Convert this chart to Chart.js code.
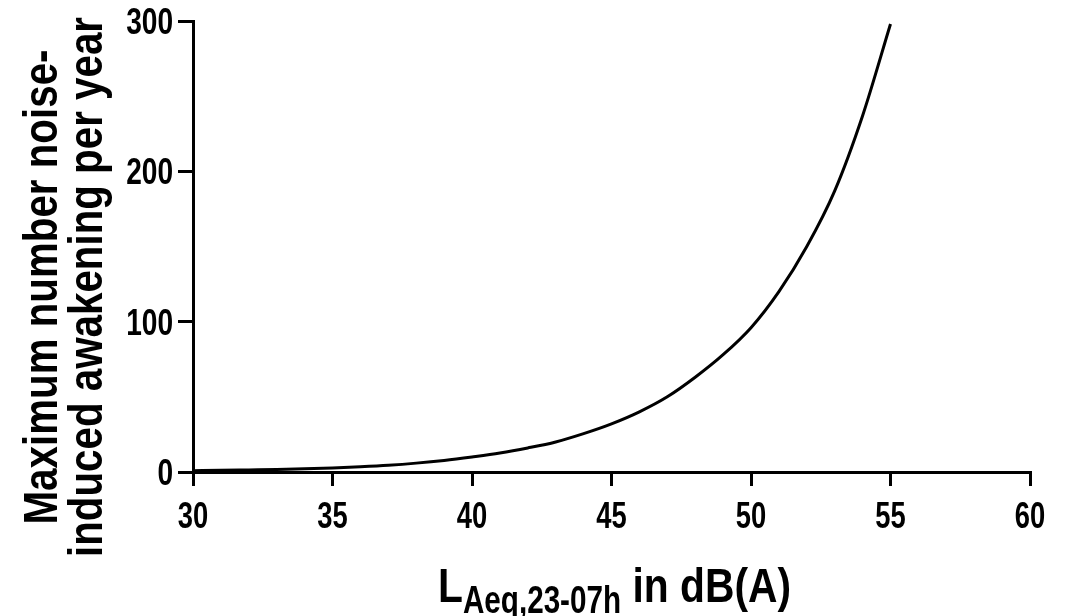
<!DOCTYPE html>
<html lang="en">
<head>
    <meta charset="UTF-8">
    <title>Noise-induced awakenings</title>
    <script src="https://cdn.jsdelivr.net/npm/chart.js"></script>
    <style>
        body { margin: 0; background: #fff; }
    </style>
</head>
<body>
    <canvas id="awakeningChart" width="1071" height="616"></canvas>
    <script>
        // values
        const levels = [30, 31, 32, 33, 34, 35, 36, 37, 38, 39, 40, 41, 42, 43, 44, 45, 46, 47, 48, 49, 50, 51, 52, 53, 54, 55];
        const awakenings = [0.9, 1.1, 1.4, 1.7, 2.2, 2.7, 3.5, 4.5, 5.9, 7.7, 10, 12.6, 16, 20, 25.5, 32, 40, 50, 63, 78, 96, 120, 150, 187, 237, 298];
        const xTicks = [30, 35, 40, 45, 50, 55, 60];
        const yTicks = [0, 100, 200, 300];
        const yTitle = ['Maximum number noise-', 'induced awakening per year'];

        // no condensed face installed: squeeze a bold sans horizontally instead
        const FONT = "'Liberation Sans', Arial, sans-serif";

        function narrowText(ctx, text, x, y, size, squeeze, align) {
            ctx.save();
            ctx.font = 'bold ' + size + 'px ' + FONT;
            const w = ctx.measureText(text).width * squeeze;
            let left = x;
            if (align === 'center') left = x - w / 2;
            if (align === 'right') left = x - w;
            ctx.translate(left, y);
            ctx.scale(squeeze, 1);
            ctx.textAlign = 'left';
            ctx.textBaseline = 'alphabetic';
            ctx.fillText(text, 0, 0);
            ctx.restore();
            return w;
        }

        const labels = {
            id: 'labels',
            afterDraw(chart) {
                const ctx = chart.ctx;
                const xs = chart.scales.x, ys = chart.scales.y;
                ctx.save();
                ctx.fillStyle = '#000';

                // tick labels, placed from the scales
                xs.ticks.forEach(t => narrowText(ctx, String(t.value), xs.getPixelForValue(t.value), 528, 36, 0.76, 'center'));
                ys.ticks.forEach(t => narrowText(ctx, String(t.value), 173, ys.getPixelForValue(t.value) + 13, 36, 0.78, 'right'));

                // y title, two rotated lines
                [57, 102].forEach((bx, i) => {
                    ctx.save();
                    ctx.translate(bx, 287);
                    ctx.rotate(-Math.PI / 2);
                    narrowText(ctx, yTitle[i], 0, 0, 48, 0.84, 'center');
                    ctx.restore();
                });

                // x title with subscript
                let x = 438;
                x += narrowText(ctx, 'L', x, 602, 48, 0.85, 'left');
                x += narrowText(ctx, 'Aeq,23-07h', x, 613, 38, 0.78, 'left');
                narrowText(ctx, ' in dB(A)', x, 602, 48, 0.85, 'left');
                ctx.restore();
            }
        };

        const ctx = document.getElementById('awakeningChart').getContext('2d');
        const awakeningChart = new Chart(ctx, {
            type: 'line',
            data: {
                datasets: [{
                    data: levels.map((l, i) => ({ x: l, y: awakenings[i] })),
                    borderColor: '#000',
                    borderWidth: 3,
                    pointRadius: 0,
                    cubicInterpolationMode: 'monotone',
                    fill: false
                }]
            },
            options: {
                responsive: false,
                animation: false,
                layout: { padding: { top: 21, right: 41, left: 0, bottom: 0 } },
                plugins: {
                    legend: { display: false },
                    tooltip: { enabled: false }
                },
                scales: {
                    x: {
                        type: 'linear',
                        min: 30,
                        max: 60,
                        afterBuildTicks: s => { s.ticks = xTicks.map(v => ({ value: v })); },
                        afterFit: s => { s.height = 144; },
                        grid: { drawOnChartArea: false, tickLength: 14, lineWidth: 3, color: '#000' },
                        border: { color: '#000', width: 3 },
                        ticks: { display: false }
                    },
                    y: {
                        min: 0,
                        max: 300,
                        afterBuildTicks: s => { s.ticks = yTicks.map(v => ({ value: v })); },
                        afterFit: s => { s.width = 193; },
                        grid: { drawOnChartArea: false, tickLength: 15, lineWidth: 3, color: '#000' },
                        border: { color: '#000', width: 3 },
                        ticks: { display: false }
                    }
                }
            },
            plugins: [labels]
        });
    </script>
</body>
</html>
